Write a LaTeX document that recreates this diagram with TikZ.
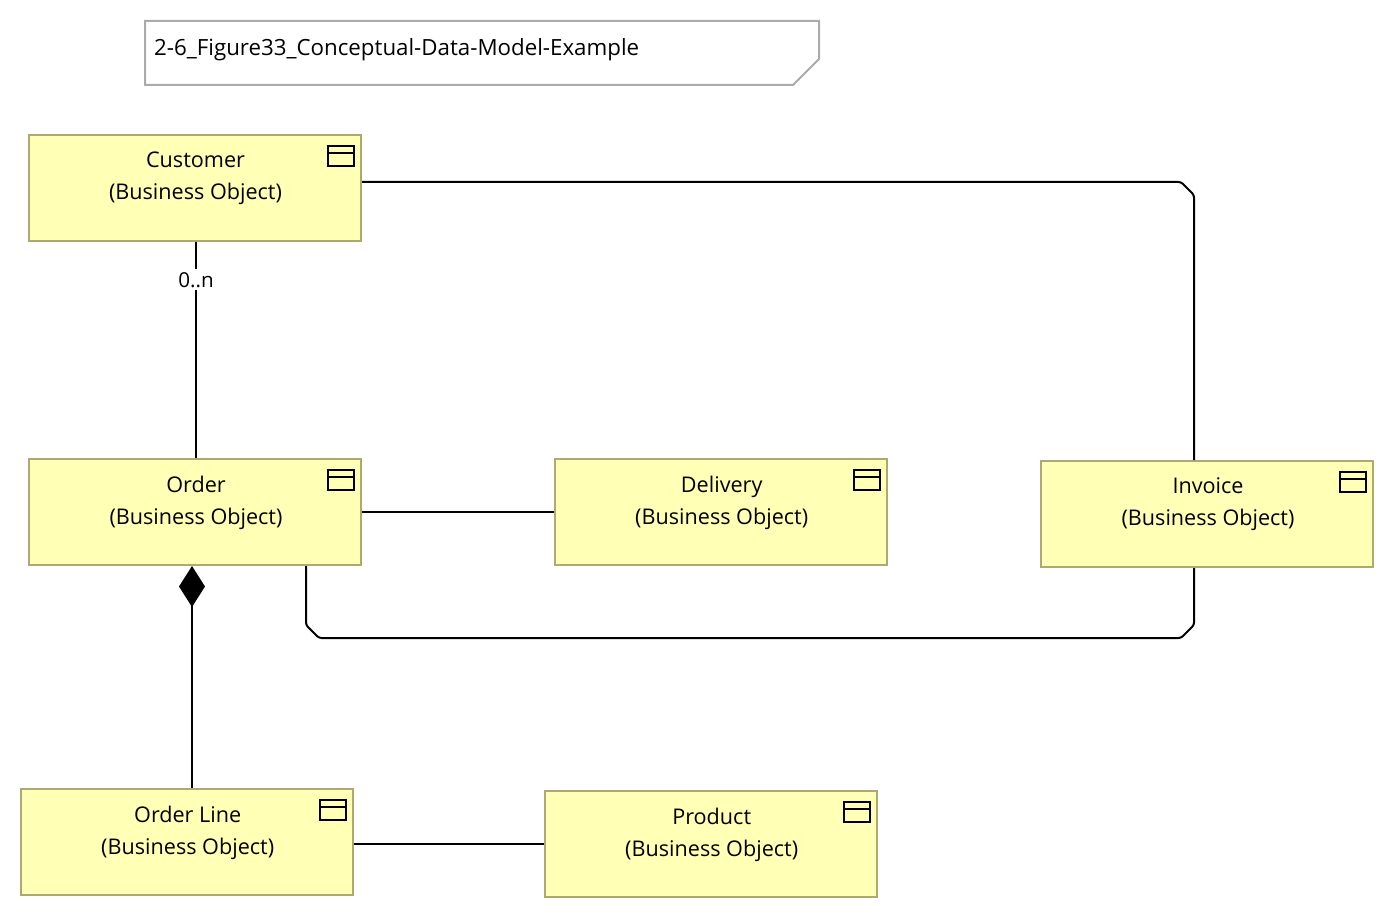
\documentclass[tikz,border=0pt]{standalone}
\usepackage{fontspec}
\setmainfont{Open Sans}
\usetikzlibrary{arrows.meta,calc}
\tikzset{
  x=1pt,y=-1pt,
  objbox/.style={draw=boxline,fill=boxfill,line width=2pt,minimum width=332pt,minimum height=106pt,inner sep=0pt,anchor=north west},
  objtext/.style={font=\fontsize{21.6}{32}\selectfont,align=center,text=black,anchor=north,inner sep=0pt},
  iconline/.style={draw=black,line width=2pt},
  conn/.style={draw=black,line width=2pt},
  mult/.style={font=\fontsize{20.6}{26}\selectfont,fill=white,inner xsep=1pt,inner ysep=3pt},
  notetext/.style={font=\fontsize{22.3}{28}\selectfont,anchor=west,inner sep=0pt,text=black},
  noteline/.style={draw=noteline,line width=2pt,fill=white}
}
\definecolor{boxline}{HTML}{ABAB70}
\definecolor{boxfill}{HTML}{FFFFB5}
\definecolor{noteline}{HTML}{ABABAB}
\newcommand{\bizobj}[5]{% name, x, y, title, text x offset
  \node[objbox] (#1) at (#2,#3) {};
  \node[objtext] (#1text) at ($(#1.north)+(#5,17.5)$) {#4\\(Business Object)};
  \draw[iconline] ($(#1.north east)+(-34,12)$) rectangle ($(#1.north east)+(-8,32)$);
  \draw[iconline] ($(#1.north east)+(-34,19)$) -- ($(#1.north east)+(-8,19)$);
}
\begin{document}
\begin{tikzpicture}
\useasboundingbox (0,0) rectangle (1396,920);
\fill[white] (0,0) rectangle (1396,920);
% note
\draw[noteline] (145,21) -- (819,21) -- (819,59) -- (793,85) -- (145,85) -- cycle;
\node[notetext] (notelabel) at (154,50) {2-6\_Figure33\_Conceptual-Data-Model-Example};
% objects
\bizobj{customer}{28}{134}{Customer}{0.5}
\bizobj{order}{28}{458}{Order}{1}
\bizobj{delivery}{554}{458}{Delivery}{0.7}
\bizobj{invoice}{1040}{460}{Invoice}{1}
\bizobj{orderline}{20}{788}{Order Line}{0.7}
\bizobj{product}{544}{790}{Product}{0.7}
% connectors
\draw[conn] (customer.south -| 196,0) -- node[mult,pos=0.175] (mlabel) {0..n} (order.north -| 196,0);
\draw[conn] (order.east |- 0,512) -- (delivery.west |- 0,512);
\draw[conn] (orderline.east |- 0,844) -- (product.west |- 0,844);
\draw[conn,rounded corners=2.5pt] (customer.east |- 0,182) -- (1181,182) -- (1194,195) -- (invoice.north -| 1194,0);
\draw[conn,rounded corners=2.5pt] (order.south -| 306,0) -- (306,625) -- (319,638) -- (1181,638) -- (1194,625) -- (invoice.south -| 1194,0);
\draw[conn,{Diamond[length=41pt,width=26pt]}-] (order.south -| 192,0) -- (orderline.north -| 192,0);
\end{tikzpicture}
\end{document}
